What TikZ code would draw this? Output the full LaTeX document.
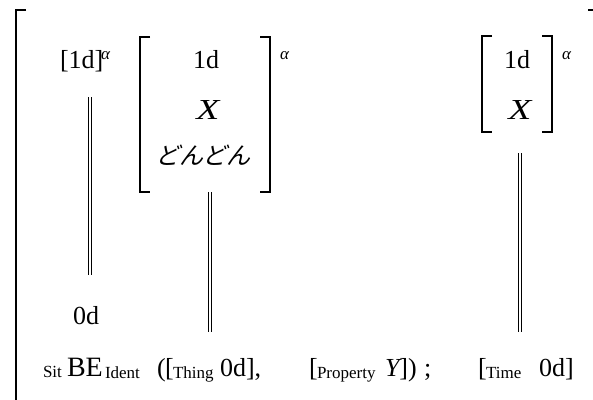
\documentclass[tikz,border=0pt]{standalone}
\usepackage{fontspec}
\setmainfont{Liberation Serif}
\newfontfamily\jpfont{Noto Sans CJK JP}[FakeSlant=0.25]
\newfontface\wideit{Liberation Serif Italic}[FakeStretch=1.3]
\begin{document}
\begin{tikzpicture}[x=1pt,y=-1pt,
  txt/.style={inner sep=0pt, outer sep=0pt, font=\fontsize{26}{30}\selectfont},
  bigtxt/.style={inner sep=0pt, outer sep=0pt, font=\fontsize{28}{32}\selectfont},
  xtxt/.style={inner sep=0pt, outer sep=0pt, font=\fontsize{29}{32}\wideit},
  subx/.style={inner sep=0pt, outer sep=0pt, font=\fontsize{17}{20}\selectfont},
  supx/.style={inner sep=0pt, outer sep=0pt, font=\fontsize{17}{20}\selectfont\itshape},
  jtxt/.style={inner sep=0pt, outer sep=0pt, font=\fontsize{24}{28}\jpfont},
  brk/.style={line width=1.1pt},
  rail/.style={line width=1pt}]
\useasboundingbox (0,0) rectangle (593,399);
\fill[white] (0,0) rectangle (593,399);

% outer bracket
\coordinate (ob1) at (26,10);
\coordinate (ob2) at (16,10);
\coordinate (ob3) at (16,400);
\draw[brk] (ob1) -- (ob2) -- (ob3);
\coordinate (tr1) at (588,10);
\coordinate (tr2) at (594,10);
\draw[brk] (tr1) -- (tr2);

% left column
\node[txt, anchor=base west] (a1) at (60,68) {[1d]};
\node[supx, anchor=base west] (a1s) at (101,59) {α};
\node[txt, anchor=base] (zero) at (86,324) {0d};
\coordinate (d1s) at (88,97);
\coordinate (d1e) at (88,275);
\draw[rail] (d1s) -- (d1e);
\draw[rail] ([xshift=3pt]d1s) -- ([xshift=3pt]d1e);

% matrix 1
\coordinate (m1tl) at (150,37);
\coordinate (m1l1) at (140,37);
\coordinate (m1l2) at (140,192);
\coordinate (m1bl) at (150,192);
\coordinate (m1tr) at (260,37);
\coordinate (m1r1) at (270,37);
\coordinate (m1r2) at (270,192);
\coordinate (m1br) at (260,192);
\draw[brk] (m1tl) -- (m1l1) -- (m1l2) -- (m1bl);
\draw[brk] (m1tr) -- (m1r1) -- (m1r2) -- (m1br);
\node[txt, anchor=base] (m1a) at (206,68) {1d};
\node[xtxt, anchor=base] (m1b) at (208,119) {X};
\node[jtxt, anchor=base] (m1c) at (203,164) {どんどん};
\node[supx, anchor=base west] (m1s) at (280,59) {α};
\coordinate (d2s) at (208,192);
\coordinate (d2e) at (208,332);
\draw[rail] (d2s) -- (d2e);
\draw[rail] ([xshift=3pt]d2s) -- ([xshift=3pt]d2e);

% matrix 2
\coordinate (m2tl) at (492,36);
\coordinate (m2l1) at (482,36);
\coordinate (m2l2) at (482,132);
\coordinate (m2bl) at (492,132);
\coordinate (m2tr) at (542,36);
\coordinate (m2r1) at (552,36);
\coordinate (m2r2) at (552,132);
\coordinate (m2br) at (542,132);
\draw[brk] (m2tl) -- (m2l1) -- (m2l2) -- (m2bl);
\draw[brk] (m2tr) -- (m2r1) -- (m2r2) -- (m2br);
\node[txt, anchor=base] (m2a) at (517,68) {1d};
\node[xtxt, anchor=base] (m2b) at (520,119) {X};
\node[supx, anchor=base west] (m2s) at (562,59) {α};
\coordinate (d3s) at (518,153);
\coordinate (d3e) at (518,332);
\draw[rail] (d3s) -- (d3e);
\draw[rail] ([xshift=3pt]d3s) -- ([xshift=3pt]d3e);

% bottom row
\node[subx, anchor=base west] (sit) at (43,377) {Sit};
\node[bigtxt, anchor=base west] (be) at (67,376) {BE};
\node[subx, anchor=base west] (ident) at (105,378) {Ident};
\node[txt, anchor=base west] (lp) at (157,376) {(};
\node[txt, anchor=base west] (lb1) at (165,376) {[};
\node[subx, anchor=base west] (thing) at (173,378) {Thing};
\node[txt, anchor=base west] (t0d) at (220,376) {0d],};
\node[txt, anchor=base west] (lb2) at (309,376) {[};
\node[subx, anchor=base west] (prop) at (317,378) {Property};
\node[txt, anchor=base west] (yy) at (385,376) {\itshape Y\upshape])};
\node[txt, anchor=base west] (semi) at (424,376) {;};
\node[txt, anchor=base west] (lb3) at (478,376) {[};
\node[subx, anchor=base west] (time) at (486,378) {Time};
\node[txt, anchor=base west] (tm0d) at (539,376) {0d]};
\end{tikzpicture}
\end{document}
